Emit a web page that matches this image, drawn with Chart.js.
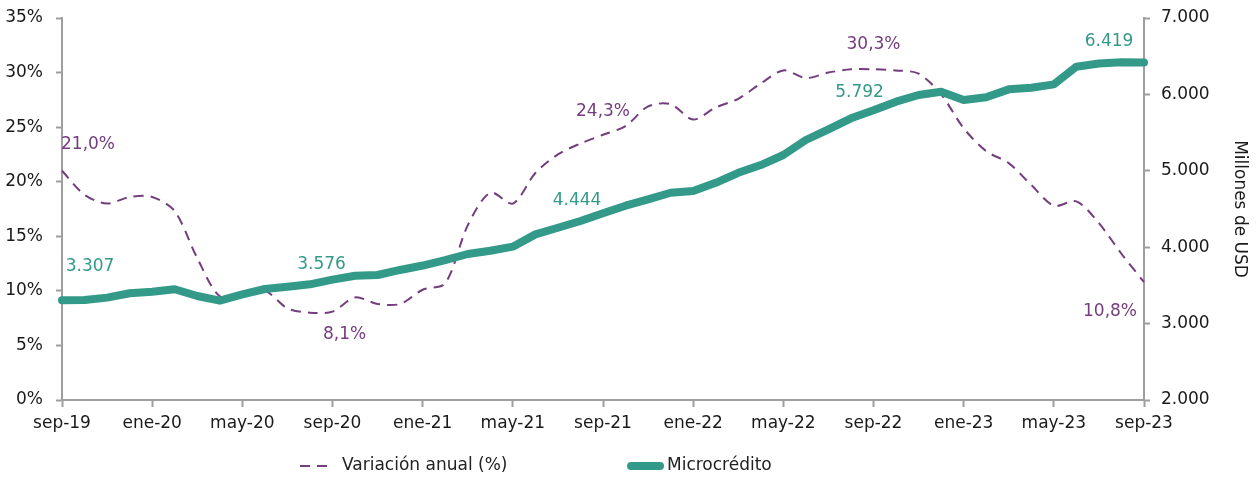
<!DOCTYPE html>
<html>
<head>
<meta charset="utf-8">
<script src="https://cdn.jsdelivr.net/npm/chart.js@4/dist/chart.umd.min.js"></script>
<style>
  html, body { margin: 0; padding: 0; background: #fff; }
  #wrap { width: 1257px; height: 480px; }
</style>
</head>
<body>
<div id="wrap"><canvas id="myChart" width="1257" height="480"></canvas></div>
<script>
// meses sep-19 .. sep-23
var meses = [
    'sep-19', 'oct-19', 'nov-19', 'dic-19',
    'ene-20', 'feb-20', 'mar-20', 'abr-20', 'may-20', 'jun-20', 'jul-20', 'ago-20', 'sep-20', 'oct-20', 'nov-20', 'dic-20',
    'ene-21', 'feb-21', 'mar-21', 'abr-21', 'may-21', 'jun-21', 'jul-21', 'ago-21', 'sep-21', 'oct-21', 'nov-21', 'dic-21',
    'ene-22', 'feb-22', 'mar-22', 'abr-22', 'may-22', 'jun-22', 'jul-22', 'ago-22', 'sep-22', 'oct-22', 'nov-22', 'dic-22',
    'ene-23', 'feb-23', 'mar-23', 'abr-23', 'may-23', 'jun-23', 'jul-23', 'ago-23', 'sep-23'
];

// variacion anual (%)
var variacion = [
    21.0, 18.8, 18.0, 18.6,
    18.6, 17.3, 13.0, 9.5, 9.6, 10.0, 8.4, 8.0, 8.1, 9.4, 8.8, 8.8,
    10.1, 10.7, 16.0, 19.0, 18.0, 20.8, 22.5, 23.5, 24.3, 25.1, 26.9, 27.1,
    25.7, 26.8, 27.6, 29.0, 30.2, 29.5, 30.0, 30.3, 30.3, 30.2, 29.9, 28.0,
    24.9, 22.8, 21.7, 19.7, 17.8, 18.2, 16.2, 13.4, 10.8
];

// microcredito, millones de USD
var microcredito = [
    3307, 3309, 3340, 3397,
    3418, 3450, 3361, 3300, 3383, 3453, 3483, 3514, 3576, 3627, 3636, 3702,
    3760, 3832, 3911, 3954, 4007, 4168, 4255, 4343, 4444, 4543, 4626, 4713,
    4735, 4843, 4974, 5075, 5207, 5403, 5543, 5687, 5792, 5905, 5992, 6035,
    5927, 5962, 6066, 6088, 6131, 6363, 6405, 6422, 6419
];

// puntos con etiqueta (cada septiembre)
var etiquetados = [0, 12, 24, 36, 48];

var morado = '#733d7e';
var verde = '#339988';
var gris = '#9e9e9e';
var fuente = 'DejaVu Sans';

function miles(v) {
    return String(v).replace(/\B(?=(\d{3})+(?!\d))/g, '.');
}

// etiquetas de datos
const etiquetasPlugin = {
    id: 'etiquetas',
    afterDatasetsDraw(chart) {
        const ctx = chart.ctx;
        // desplazamientos [dx, dy] por dataset, mismo orden que etiquetados
        const despl = [
            [[26, -26], [12, 23], [0, -23], [0, -25], [-34, 29]],
            [[28, -34], [-11, -15], [-26, -13], [-14, -18], [-35, -21]]
        ];
        ctx.save();
        ctx.font = '17px "' + fuente + '"';
        ctx.textAlign = 'center';
        ctx.textBaseline = 'middle';
        chart.data.datasets.forEach(function(ds, d) {
            const meta = chart.getDatasetMeta(d);
            ctx.fillStyle = ds.borderColor;
            etiquetados.forEach(function(idx, k) {
                const p = meta.data[idx];
                const v = ds.data[idx];
                const txt = d === 0 ? v.toFixed(1).replace('.', ',') + '%' : miles(v);
                ctx.fillText(txt, p.x + despl[d][k][0], p.y + despl[d][k][1]);
            });
        });
        ctx.restore();
    }
};

// leyenda abajo
const leyendaPlugin = {
    id: 'leyenda',
    afterDraw(chart) {
        const ctx = chart.ctx;
        const y = 466;
        ctx.save();
        ctx.font = '17px "' + fuente + '"';
        ctx.textBaseline = 'middle';
        ctx.fillStyle = '#222';

        ctx.strokeStyle = morado;
        ctx.lineWidth = 2;
        ctx.setLineDash([10, 7]);
        ctx.beginPath();
        ctx.moveTo(300, y);
        ctx.lineTo(334, y);
        ctx.stroke();
        ctx.fillText(chart.data.datasets[0].label, 342, y);

        ctx.setLineDash([]);
        ctx.strokeStyle = verde;
        ctx.lineWidth = 8;
        ctx.lineCap = 'round';
        ctx.beginPath();
        ctx.moveTo(631, y);
        ctx.lineTo(660, y);
        ctx.stroke();
        ctx.fillText(chart.data.datasets[1].label, 667, y);
        ctx.restore();
    }
};

const chartdata = {
    labels: meses,
    datasets: [{
            label: 'Variación anual (%)',
            data: variacion,
            yAxisID: 'yVar',
            borderColor: morado,
            backgroundColor: morado,
            borderWidth: 2,
            borderDash: [10, 7],
            tension: 0.3,
            pointRadius: 0,
            order: 1
        },
        {
            label: 'Microcrédito',
            data: microcredito,
            yAxisID: 'yMic',
            borderColor: verde,
            backgroundColor: verde,
            borderWidth: 8,
            borderJoinStyle: 'round',
            borderCapStyle: 'round',
            tension: 0,
            pointRadius: 0,
            order: 0
        }
    ]
};

const config = {
    type: 'line',
    data: chartdata,
    plugins: [etiquetasPlugin, leyendaPlugin],
    options: {
        animation: false,
        responsive: false,
        layout: {
            padding: { top: 0, bottom: 0, left: 0, right: 0 }
        },
        plugins: {
            legend: { display: false },
            tooltip: { enabled: false }
        },
        scales: {
            x: {
                offset: false,
                border: { color: gris, width: 2 },
                grid: { drawOnChartArea: false, color: gris, tickLength: 7, tickWidth: 2 },
                ticks: {
                    autoSkip: false,
                    maxRotation: 0,
                    padding: 6,
                    color: '#1a1a1a',
                    font: { family: fuente, size: 17 },
                    callback: function(val, i) {
                        return i % 4 === 0 ? meses[i] : null;
                    }
                },
                afterFit: function(s) { s.height = 80; }
            },
            yVar: {
                position: 'left',
                min: 0,
                max: 35,
                border: { color: gris, width: 2 },
                grid: { drawOnChartArea: false, color: gris, tickLength: 6, tickWidth: 2 },
                ticks: {
                    stepSize: 5,
                    padding: 13,
                    color: '#1a1a1a',
                    font: { family: fuente, size: 17, lineHeight: 2.1 },
                    callback: function(v) { return v + '%'; }
                },
                afterFit: function(s) { s.width = 62; s.paddingTop = 18; }
            },
            yMic: {
                position: 'right',
                min: 2000,
                max: 7000,
                border: { color: gris, width: 2 },
                grid: { drawOnChartArea: false, color: gris, tickLength: 6, tickWidth: 2 },
                ticks: {
                    stepSize: 1000,
                    padding: 11,
                    color: '#1a1a1a',
                    font: { family: fuente, size: 17, lineHeight: 2.1 },
                    callback: function(v) { return miles(v); }
                },
                title: {
                    display: true,
                    text: 'Millones de USD',
                    color: '#1a1a1a',
                    font: { family: fuente, size: 17 },
                    padding: { top: 7, bottom: 0 }
                },
                afterFit: function(s) { s.width = 113; s.paddingTop = 18; }
            }
        }
    }
};

var myChart = new Chart(
    document.getElementById('myChart'),
    config
);
</script>
</body>
</html>
